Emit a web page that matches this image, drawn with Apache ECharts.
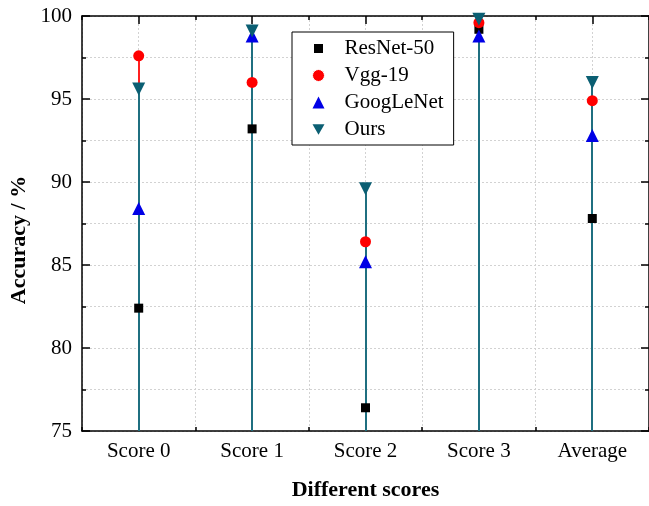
<!DOCTYPE html>
<html>
<head>
<meta charset="utf-8">
<script src="https://cdn.jsdelivr.net/npm/echarts@6/dist/echarts.min.js"></script>
<style>html,body{margin:0;padding:0;background:#fff;}#c{width:649px;height:506px;}</style>
</head>
<body>
<div id="c"></div>
<script>
const categories = ['Score 0', 'Score 1', 'Score 2', 'Score 3', 'Average'];
const resnet50 = [82.4, 93.2, 76.4, 99.2, 87.8];
const vgg19 = [97.6, 96.0, 86.4, 99.6, 94.9];
const googlenet = [88.4, 98.8, 85.2, 98.8, 92.8];
const ours = [95.6, 99.1, 89.6, 99.8, 96.0];
const yMin = 75, yMax = 100, yStep = 5;

const FONT = '"Liberation Serif", "Times New Roman", serif';
const seriesDefs = [
  {name: 'ResNet-50', data: resnet50, color: '#000000', stem: '#000000', symbol: 'rect', size: 9},
  {name: 'Vgg-19', data: vgg19, color: '#ff0000', stem: '#ff2020', symbol: 'circle', size: 11},
  {name: 'GoogLeNet', data: googlenet, color: '#0000e6', stem: '#1a1ae0', symbol: 'triangle', size: 13},
  {name: 'Ours', data: ours, color: '#0b5f73', stem: '#1f6f80', symbol: 'triangle', size: 13, rotate: 180}
];

const stems = seriesDefs.map(d => ({
  type: 'custom',
  name: d.name + ' stem',
  xAxisIndex: 0, yAxisIndex: 0,
  z: 2,
  data: d.data.map((v, i) => [i, v]),
  renderItem: function (params, api) {
    const p0 = api.coord([api.value(0), yMin]);
    const p1 = api.coord([api.value(0), api.value(1)]);
    const x = Math.round(p0[0]);
    return {type: 'line', shape: {x1: x, y1: p0[1], x2: x, y2: p1[1]},
      style: {stroke: d.stem, lineWidth: 2}};
  },
  silent: true
}));

const marks = seriesDefs.map(d => ({
  type: 'scatter',
  name: d.name,
  xAxisIndex: 0, yAxisIndex: 0,
  z: 5,
  clip: false,
  symbol: d.symbol,
  symbolSize: d.size,
  symbolRotate: d.rotate || 0,
  itemStyle: {color: d.color, opacity: 1},
  data: d.data.map((v, i) => [i, v])
}));

const tickStyle = {color: '#000', width: 1.5};
const gridLine = {color: '#d2d2d2', width: 1, type: [2, 2]};
const chart = echarts.init(document.getElementById('c'), null, {renderer: 'canvas'});
chart.setOption({
  animation: false,
  backgroundColor: '#fff',
  grid: {left: 82, right: -3, top: 16, bottom: 73, containLabel: false},
  legend: {
    orient: 'vertical',
    left: 292, top: 32,
    padding: [6, 10, 5, 19],
    itemWidth: 12, itemHeight: 12, itemGap: 6,
    symbolKeepAspect: true,
    backgroundColor: '#fff',
    borderColor: '#000', borderWidth: 1,
    textStyle: {fontFamily: FONT, fontSize: 21, color: '#000', padding: [0, 0, 0, 15]},
    data: [
      {name: 'ResNet-50', icon: 'rect', itemStyle: {borderColor: '#fff', borderWidth: 3}},
      {name: 'Vgg-19', icon: 'circle', itemStyle: {borderColor: '#fff', borderWidth: 1}},
      {name: 'GoogLeNet', icon: 'triangle', itemStyle: {borderWidth: 0}},
      {name: 'Ours', icon: 'path://M0,0L12,0L6,10.4Z', itemStyle: {borderWidth: 0}}
    ]
  },
  xAxis: [
    {type: 'category', data: categories, position: 'bottom', boundaryGap: true,
      axisLine: {onZero: false, lineStyle: {color: '#000', width: 1.5}},
      axisTick: {show: false},
      axisLabel: {fontFamily: FONT, fontSize: 21, color: '#000', margin: 10},
      splitLine: {show: false},
      name: 'Different scores', nameLocation: 'middle', nameGap: 48,
      nameTextStyle: {fontFamily: FONT, fontSize: 22, fontWeight: 'bold', color: '#000'}},
    {type: 'category', data: categories, position: 'bottom', boundaryGap: true,
      axisLine: {show: false, onZero: false},
      axisTick: {show: true, inside: true, length: 4, lineStyle: tickStyle},
      axisLabel: {show: false}, splitLine: {show: false}},
    {type: 'category', data: categories, position: 'top', boundaryGap: true,
      axisLine: {onZero: false, lineStyle: {color: '#000', width: 1.5}},
      axisTick: {show: true, inside: true, length: 8, alignWithLabel: true, lineStyle: tickStyle},
      axisLabel: {show: false}, splitLine: {show: false}},
    {type: 'category', data: categories, position: 'top', boundaryGap: true,
      axisLine: {show: false, onZero: false},
      axisTick: {show: true, inside: true, length: 4, lineStyle: tickStyle},
      axisLabel: {show: false}, splitLine: {show: false}},
    {type: 'value', min: -0.5, max: categories.length - 0.5, interval: 0.5, position: 'bottom',
      axisLine: {show: false, onZero: false}, axisTick: {show: false}, axisLabel: {show: false},
      splitLine: {show: true, lineStyle: gridLine}}
  ],
  yAxis: [
    {type: 'value', min: yMin, max: yMax, interval: yStep, position: 'left',
      axisLine: {show: true, onZero: false, lineStyle: {color: '#000', width: 1.5}},
      axisTick: {show: true, inside: true, length: 8, lineStyle: tickStyle},
      minorTick: {show: true, splitNumber: 2, length: 4, lineStyle: tickStyle},
      axisLabel: {fontFamily: FONT, fontSize: 21, color: '#000', margin: 10},
      splitLine: {show: true, lineStyle: gridLine},
      minorSplitLine: {show: true, lineStyle: gridLine}},
    {type: 'value', min: yMin, max: yMax, interval: yStep, position: 'right',
      axisLine: {show: true, onZero: false, lineStyle: {color: '#000', width: 1.5}},
      axisTick: {show: true, inside: true, length: 8, lineStyle: tickStyle},
      minorTick: {show: true, splitNumber: 2, length: 4, lineStyle: tickStyle},
      axisLabel: {show: false}, splitLine: {show: false}}
  ],
  graphic: [{
    type: 'text', x: 19, y: 240, rotation: Math.PI / 2,
    style: {text: 'Accuracy / %', fontFamily: FONT, fontSize: 22, fontWeight: 'bold', fill: '#000',
      align: 'center', verticalAlign: 'middle'}
  }],
  series: stems.concat(marks)
});
</script>
</body>
</html>
